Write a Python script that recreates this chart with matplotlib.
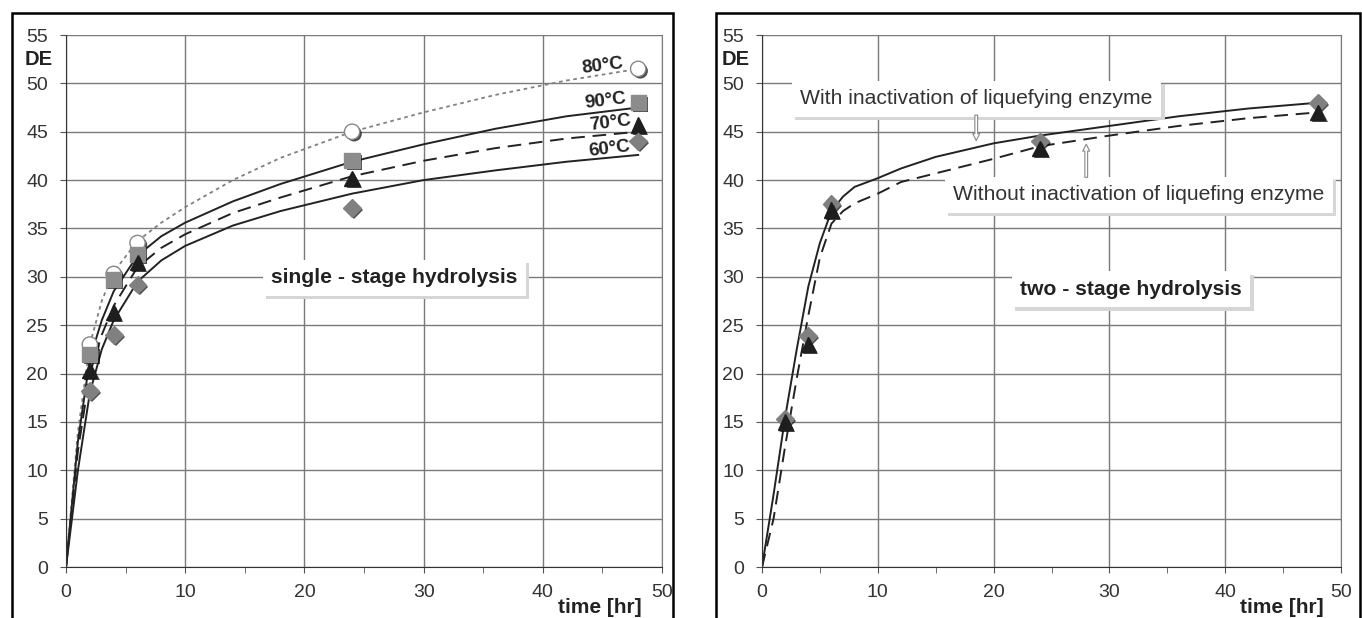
import numpy as np
import matplotlib
matplotlib.use("Agg")
import matplotlib.pyplot as plt
import matplotlib.patheffects as pe
from matplotlib.patches import Rectangle

plt.rcParams['font.family'] = ['Liberation Sans', 'DejaVu Sans']

# ======================
# Data - single-stage hydrolysis
# ======================
t_meas = [2, 4, 6, 24, 48]
de_80 = [23.0, 30.3, 33.5, 45.0, 51.5]
de_90 = [22.0, 29.7, 32.3, 42.0, 48.0]
de_70 = [20.3, 26.3, 31.5, 40.2, 45.7]
de_60 = [18.2, 24.0, 29.2, 37.1, 44.0]

t_fit = [0, 1, 2, 3, 4, 6, 8, 10, 14, 18, 24, 30, 36, 42, 48]
fit_80 = [0, 14.0, 23.0, 27.5, 30.5, 33.7, 35.6, 37.2, 40.0, 42.3, 45.0, 47.0, 48.8, 50.3, 51.5]
fit_90 = [0, 13.0, 21.5, 25.5, 28.5, 32.2, 34.2, 35.6, 37.8, 39.6, 41.9, 43.7, 45.3, 46.6, 47.5]
fit_70 = [0, 12.0, 20.0, 24.0, 27.0, 31.0, 33.0, 34.4, 36.6, 38.2, 40.4, 42.0, 43.3, 44.3, 45.0]
fit_60 = [0, 10.0, 18.0, 22.5, 25.5, 29.5, 31.7, 33.2, 35.3, 36.8, 38.6, 40.0, 41.0, 41.9, 42.6]

# ======================
# Data - two-stage hydrolysis
# ======================
de_with = [15.3, 23.9, 37.5, 44.0, 48.0]
de_without = [15.0, 23.0, 36.9, 43.3, 47.0]

t_fit2 = [0, 1, 2, 3, 4, 5, 6, 7, 8, 10, 12, 15, 20, 24, 30, 36, 42, 48]
fit_with = [0, 7.5, 15.5, 22.5, 29.0, 33.5, 36.8, 38.3, 39.3, 40.2, 41.2, 42.4, 43.8, 44.6, 45.6, 46.6, 47.4, 48.0]
fit_without = [0, 5.0, 12.5, 19.5, 26.0, 32.0, 35.5, 36.8, 37.6, 38.6, 39.8, 40.7, 42.2, 43.5, 44.6, 45.6, 46.4, 47.0]

# ======================
# Figure
# ======================
fig = plt.figure(figsize=(13.62, 6.18), dpi=100)
W, H = 1362, 618

# panel frames
for x0, x1 in [(12, 673), (716, 1360)]:
    fig.patches.append(Rectangle((x0 / W, -0.05), (x1 - x0) / W, 1 - 13 / H + 0.05,
                                 transform=fig.transFigure, fill=False,
                                 edgecolor='black', linewidth=1.8))

ax1 = fig.add_axes([66 / W, 1 - 567 / H, (662 - 66) / W, (567 - 35) / H])
ax2 = fig.add_axes([762 / W, 1 - 567 / H, (1341 - 762) / W, (567 - 35) / H])

shadow = [pe.SimplePatchShadow(offset=(1.5, -1.5), shadow_rgbFace='black', alpha=0.7), pe.Normal()]


def style_axes(ax):
    ax.set_xlim(0, 50)
    ax.set_ylim(0, 55)
    ax.set_xticks(range(0, 51, 10))
    ax.set_xticks(range(5, 50, 10), minor=True)
    ax.set_yticks(range(0, 56, 5))
    ax.grid(True, which='major', color='#7a7a7a', linewidth=1.0)
    ax.set_axisbelow(True)
    ax.spines['top'].set_visible(False)
    ax.spines['right'].set_color('#7a7a7a')
    ax.spines['left'].set_color('#333333')
    ax.spines['bottom'].set_color('#333333')
    ax.tick_params(which='both', direction='out', color='#555555', labelsize=14, labelcolor='#333333')
    ax.tick_params(axis='y', which='major', length=4.5, pad=8.5)
    ax.tick_params(axis='x', which='both', length=4, pad=8.5)
    ax.text(-1.1, 52.5, 'DE', fontsize=14.5, fontweight='bold', ha='right', va='center', color='#222222')
    ax.text(41.3, -4.2, 'time [hr]', fontsize=15, fontweight='bold', ha='left', va='center',
            color='#222222', clip_on=False)


def boxed(ax, x, y, s, **kw):
    t = ax.text(x, y, s, va='center', **kw,
                bbox=dict(boxstyle='square,pad=0.4', fc='white', ec='none'))
    t.get_bbox_patch().set_path_effects([
        pe.SimplePatchShadow(offset=(2.5, -2.5), shadow_rgbFace='#d6d6d6', alpha=1.0), pe.Normal()])
    return t


# ---- left panel ----
style_axes(ax1)
ax1.plot(t_fit, fit_80, color='#808080', linestyle=(0, (2, 2)), linewidth=1.3)
ax1.plot(t_fit, fit_90, color='#222222', linestyle='-', linewidth=1.4)
ax1.plot(t_fit, fit_70, color='#222222', linestyle=(0, (7, 4)), linewidth=1.4)
ax1.plot(t_fit, fit_60, color='#222222', linestyle='-', linewidth=1.4)

ax1.plot(t_meas, de_80, 'o', ms=11, mfc='white', mec='#888888', mew=1, path_effects=shadow)
ax1.plot(t_meas, de_90, 's', ms=11, mfc='#8c8c8c', mec='#8c8c8c', path_effects=shadow)
ax1.plot(t_meas, de_70, '^', ms=11, mfc='#1e1e1e', mec='#1e1e1e', path_effects=shadow)
ax1.plot(t_meas, de_60, 'D', ms=9, mfc='#808080', mec='#808080', path_effects=shadow)

for lx, ly, lab in [(43.3, 51.5, '80°C'), (43.5, 47.9, '90°C'), (43.9, 45.6, '70°C'), (43.9, 43.0, '60°C')]:
    ax1.text(lx, ly, lab, fontsize=13.5, fontweight='bold', color='#222222',
             rotation=7, rotation_mode='anchor', ha='left', va='center')

boxed(ax1, 17.2, 29.9, 'single - stage hydrolysis', fontsize=15.2, fontweight='bold',
      ha='left', color='#222222')

# ---- right panel ----
style_axes(ax2)
ax2.plot(t_fit2, fit_with, color='#222222', linestyle='-', linewidth=1.4)
ax2.plot(t_fit2, fit_without, color='#222222', linestyle=(0, (7, 4)), linewidth=1.4)

ax2.plot(t_meas, de_with, 'D', ms=9, mfc='#808080', mec='#808080', path_effects=shadow)
ax2.plot(t_meas, de_without, '^', ms=11, mfc='#1e1e1e', mec='#1e1e1e', path_effects=shadow)

boxed(ax2, 3.3, 48.4, 'With inactivation of liquefying enzyme', fontsize=15.2, color='#333333', ha='left')
boxed(ax2, 16.5, 38.5, 'Without inactivation of liquefing enzyme', fontsize=15.2, color='#333333', ha='left')
boxed(ax2, 22.3, 28.7, 'two - stage hydrolysis', fontsize=15.2, fontweight='bold', ha='left',
      color='#222222')

ax2.annotate('', xy=(18.5, 43.8), xytext=(18.5, 47.0),
             arrowprops=dict(arrowstyle='simple,head_width=0.5,head_length=0.5,tail_width=0.2',
                             fc='white', ec='#888888', lw=0.8))
ax2.annotate('', xy=(28.0, 44.0), xytext=(28.0, 40.0),
             arrowprops=dict(arrowstyle='simple,head_width=0.5,head_length=0.5,tail_width=0.2',
                             fc='white', ec='#888888', lw=0.8))

fig.savefig('out.png', dpi=100, facecolor='white')
